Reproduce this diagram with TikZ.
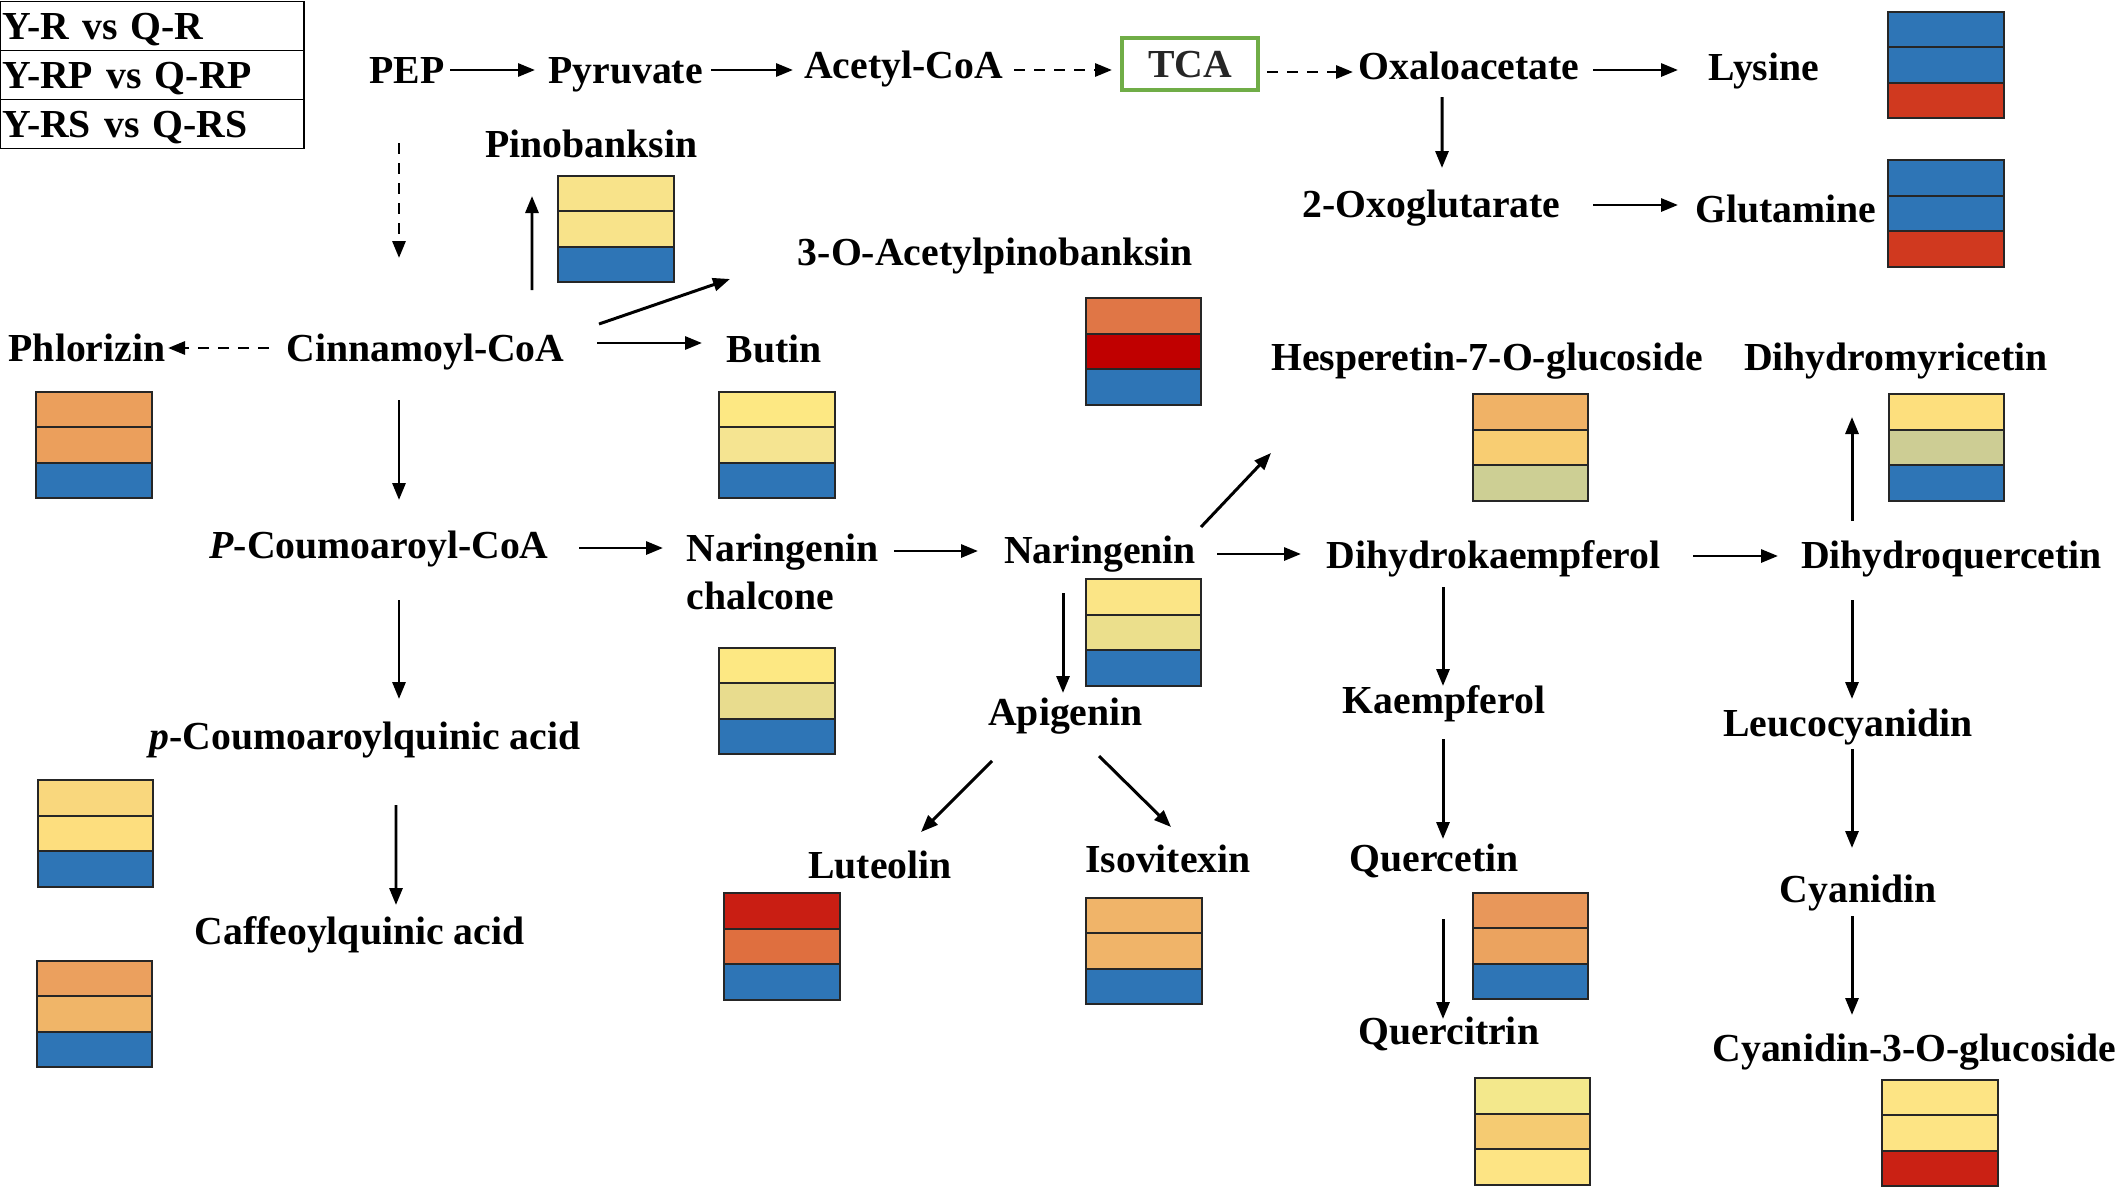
\documentclass[tikz,border=0pt]{standalone}
\usepackage{fontspec}
\setmainfont{Liberation Serif}
\usepackage{tikz}
\usepackage{xcolor}
\usetikzlibrary{arrows.meta,positioning,calc}

% heat map colours
\definecolor{hblue}{HTML}{2E75B6}
\definecolor{hred}{HTML}{D0391F}
\definecolor{tcagreen}{HTML}{70AD47}
\definecolor{pinoY}{HTML}{F8E38A}
\definecolor{phlO}{HTML}{EB9F5C}
\definecolor{acpO}{HTML}{E07646}
\definecolor{acpR}{HTML}{C00000}
\definecolor{butY1}{HTML}{FDE883}
\definecolor{butY2}{HTML}{F5E491}
\definecolor{narchK}{HTML}{E8DC8E}
\definecolor{narY}{HTML}{FBE586}
\definecolor{narK}{HTML}{EBDF8C}
\definecolor{hesO}{HTML}{F0B266}
\definecolor{hesY}{HTML}{F8CD72}
\definecolor{hesG}{HTML}{CDCF94}
\definecolor{dhmY}{HTML}{FDDF7D}
\definecolor{dhmG}{HTML}{CDCD94}
\definecolor{pcqY1}{HTML}{F9D77D}
\definecolor{pcqY2}{HTML}{FDDE7E}
\definecolor{cqaO1}{HTML}{EBA05E}
\definecolor{cqaO2}{HTML}{F0B568}
\definecolor{lutR}{HTML}{C91E13}
\definecolor{lutO}{HTML}{DF6F3F}
\definecolor{isoO}{HTML}{F0B469}
\definecolor{queO1}{HTML}{E8975A}
\definecolor{queO2}{HTML}{EBA35F}
\definecolor{qtrY1}{HTML}{F3E88C}
\definecolor{qtrO}{HTML}{F5CB72}
\definecolor{qtrY2}{HTML}{FDE484}
\definecolor{c3gR}{HTML}{CA2114}

\begin{document}
\begin{tikzpicture}[x=0.1mm, y=-0.1mm,
    every node/.style={font=\fontsize{11.3}{13.8}\selectfont\bfseries},
    lbl/.style={inner sep=0pt, text height=2.63mm, text depth=0pt},
    legend/.style={draw, line width=0.5pt, text width=30mm, inner xsep=0.2mm, inner ysep=0pt, outer sep=0pt,
        minimum height=4.9mm, align=left, text height=2.63mm, text depth=0pt},
    cell/.style={draw=black!85, line width=0.5pt, minimum width=11.55mm, minimum height=3.55mm, inner sep=0pt, outer sep=0pt},
    arr/.style={-{Triangle[length=1.7mm,width=1.3mm]}, line width=0.85pt},
    dsh/.style={arr, dash pattern=on 1.1mm off 0.9mm}]
    \useasboundingbox (0,0) rectangle (2116,1188);

    % Legend
    \node[legend, anchor=north west] (leg1) at (0,1.5) {Y-R vs Q-R};
    \node[legend, below=0pt of leg1] (leg2) {Y-RP vs Q-RP};
    \node[legend, below=0pt of leg2] (leg3) {Y-RS vs Q-RS};

    % Top row: glycolysis and TCA cycle
    \node[lbl] (pep) at (407,70) {PEP};
    \node[lbl] (pyr) at (625.5,70) {Pyruvate};
    \node[lbl] (acoa) at (903.5,65) {Acetyl-CoA};
    \node[lbl, draw=tcagreen, line width=1.1pt, minimum width=13.6mm, minimum height=5.2mm, text=black!85] (tca) at (1190,64) {TCA};
    \node[lbl] (oxa) at (1469,66) {Oxaloacetate};
    \node[lbl] (lys) at (1764,67) {Lysine};
    \node[lbl] (oxo) at (1431.5,204) {2-Oxoglutarate};
    \node[lbl] (gln) at (1786,209) {Glutamine};

    % Phenylpropanoid part
    \node[lbl] (pino) at (591.5,144) {Pinobanksin};
    \node[lbl] (acpino) at (995.5,252) {3-O-Acetylpinobanksin};
    \node[lbl] (cin) at (425.5,348) {Cinnamoyl-CoA};
    \node[lbl] (phl) at (87,348) {Phlorizin};
    \node[lbl] (butin) at (774,349) {Butin};
    \node[lbl] (pcoa) at (379,545) {\textit{P}-Coumoaroyl-CoA};
    \node[lbl] (pcqa) at (365,736) {\textit{p}-Coumoaroylquinic acid};
    \node[lbl] (cqa) at (359.5,931) {Caffeoylquinic acid};

    % Flavonoid part
    \node[inner sep=0pt, align=left, anchor=north west] (narch) at (686,533) {Naringenin\\chalcone};
    \node[lbl] (nar) at (1100,550) {Naringenin};
    \node[lbl] (api) at (1065.5,712) {Apigenin};
    \node[lbl] (lut) at (880,865) {Luteolin};
    \node[lbl] (iso) at (1168,859) {Isovitexin};
    \node[lbl] (hes) at (1487,357) {Hesperetin-7-O-glucoside};
    \node[lbl] (dhm) at (1896,357) {Dihydromyricetin};
    \node[lbl] (dhk) at (1493.5,555) {Dihydrokaempferol};
    \node[lbl] (dhq) at (1951.5,555) {Dihydroquercetin};
    \node[lbl] (kae) at (1444,700) {Kaempferol};
    \node[lbl] (leu) at (1848,723) {Leucocyanidin};
    \node[lbl] (que) at (1434,858) {Quercetin};
    \node[lbl] (qtr) at (1449,1031) {Quercitrin};
    \node[lbl] (cya) at (1858,889) {Cyanidin};
    \node[lbl] (c3g) at (1914.5,1048) {Cyanidin-3-O-glucoside};

    % Heat map boxes (Y-R, Y-RP, Y-RS from top to bottom)
    \foreach \n/\x/\y/\ca/\cb/\cc in {
        lys/1946/65/hblue/hblue/hred,
        gln/1946/213.5/hblue/hblue/hred,
        pino/616/229/pinoY/pinoY/hblue,
        phl/94/445/phlO/phlO/hblue,
        acpino/1143.5/351.5/acpO/acpR/hblue,
        butin/777/445/butY1/butY2/hblue,
        narch/777/701/butY1/narchK/hblue,
        nar/1143.5/632.5/narY/narK/hblue,
        hes/1530.5/447.5/hesO/hesY/hesG,
        dhm/1946.5/447.5/dhmY/dhmG/hblue,
        pcqa/95.5/833.5/pcqY1/pcqY2/hblue,
        cqa/94.5/1014/cqaO1/cqaO2/hblue,
        lut/782/946.5/lutR/lutO/hblue,
        iso/1144/951/isoO/isoO/hblue,
        que/1530.5/946/queO1/queO2/hblue,
        qtr/1532.5/1131.5/qtrY1/qtrO/qtrY2,
        c3g/1940/1133/qtrY2/qtrY2/c3gR}{
        \node[cell, fill=\cb] (\n-h2) at (\x,\y) {};
        \node[cell, fill=\ca, above=0pt of \n-h2] (\n-h1) {};
        \node[cell, fill=\cc, below=0pt of \n-h2] (\n-h3) {};
    }

    % Arrows of the top row
    \draw[arr] ($(pep)+(43,0)$) -- ($(pyr)+(-90.5,0)$);
    \draw[arr] ($(pyr)+(85.5,0)$) -- ($(acoa)+(-110.5,5)$);
    \draw[dsh] ($(acoa)+(110.5,5)$) -- ($(tca)+(-78,6)$);
    \draw[dsh] ($(tca)+(77,8)$) -- ($(oxa)+(-116,6)$);
    \draw[arr] ($(oxa)+(124,4)$) -- ($(lys)+(-86,3)$);
    \draw[arr] ($(oxa)+(-27,31)$) -- ($(oxo)+(10.5,-36)$);
    \draw[arr] ($(oxo)+(161.5,1)$) -- ($(gln)+(-108,-4)$);

    % Arrows from PEP and Cinnamoyl-CoA
    \draw[dsh] ($(pep)+(-8,73)$) -- ($(cin)+(-26.5,-90)$);
    \draw[arr] ($(cin)+(106.5,-58)$) -- ($(pino)+(-59.5,52)$);
    \draw[arr] ($(cin)+(173.5,-24)$) -- ($(acpino)+(-265.5,27)$);
    \draw[arr] ($(cin)+(171.5,-5)$) -- ($(butin)+(-72,-6)$);
    \draw[dsh] ($(cin)+(-156.5,0)$) -- ($(phl)+(81,0)$);
    \draw[arr] ($(cin)+(-26.5,52)$) -- ($(pcoa)+(20,-45)$);
    \draw[arr] ($(pcoa)+(200,3)$) -- ($(narch.north west)+(-23,15)$);
    \draw[arr] ($(pcoa)+(20,55)$) -- ($(pcqa)+(34,-37)$);
    \draw[arr] ($(pcqa)+(31,69)$) -- ($(cqa)+(36.5,-26)$);

    % Arrows of the flavonoid part
    \draw[arr] ($(narch.north west)+(208,18)$) -- ($(nar)+(-122,1)$);
    \draw[arr] ($(nar)+(101,-23)$) -- ($(hes)+(-216,96)$);
    \draw[arr] ($(nar)+(117,4)$) -- ($(dhk)+(-192.5,-1)$);
    \draw[arr] ($(nar)+(-37,43)$) -- ($(api)+(-2.5,-19)$);
    \draw[arr] ($(api)+(-73.5,49)$) -- ($(lut)+(41,-33)$);
    \draw[arr] ($(api)+(33.5,44)$) -- ($(iso)+(3,-32)$);
    \draw[arr] ($(dhk)+(199.5,1)$) -- ($(dhq)+(-173.5,1)$);
    \draw[arr] ($(dhq)+(-99.5,-34)$) -- ($(dhm)+(-44,60)$);
    \draw[arr] ($(dhk)+(-50.5,32)$) -- ($(kae)+(-1,-14)$);
    \draw[arr] ($(dhq)+(-99.5,45)$) -- ($(leu)+(4,-24)$);
    \draw[arr] ($(leu)+(4,26)$) -- ($(cya)+(-6,-41)$);
    \draw[arr] ($(cya)+(-6,27)$) -- ($(c3g)+(-62.5,-33)$);
    \draw[arr] ($(kae)+(-1,39)$) -- ($(que)+(9,-19)$);
    \draw[arr] ($(que)+(9,61)$) -- ($(qtr)+(-6,-12)$);
\end{tikzpicture}
\end{document}
